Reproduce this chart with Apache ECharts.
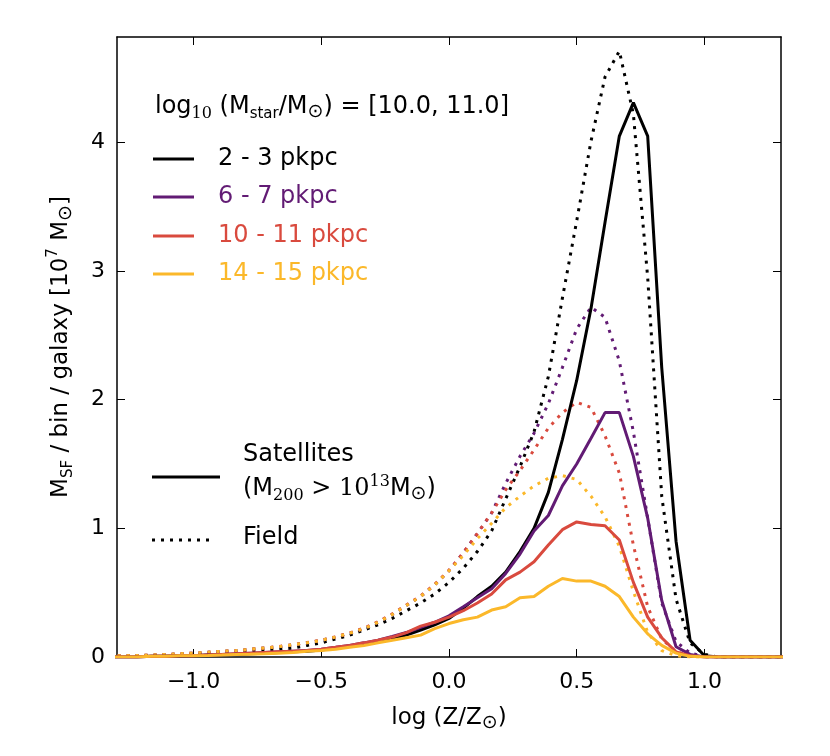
<!DOCTYPE html>
<html>
<head>
<meta charset="utf-8">
<script src="https://cdn.jsdelivr.net/npm/echarts@6.0.0/dist/echarts.min.js"></script>
<style>
html, body { margin: 0; padding: 0; background: #fff; }
#chart { width: 830px; height: 756px; }
</style>
</head>
<body>
<div id="chart"></div>
<script>
// bin centres, log (Z/Zsun)
var xs = [-1.333, -1.278, -1.222, -1.167, -1.111, -1.056, -1.0, -0.944, -0.889, -0.833, -0.778,
          -0.722, -0.667, -0.611, -0.556, -0.5, -0.444, -0.389, -0.333, -0.278, -0.222,
          -0.167, -0.111, -0.056, 0.0, 0.056, 0.111, 0.167, 0.222, 0.278, 0.333,
          0.389, 0.444, 0.5, 0.556, 0.611, 0.667, 0.722, 0.778, 0.833, 0.889,
          0.944, 1.0, 1.056, 1.111, 1.167, 1.222, 1.278, 1.333];

// satellites (solid)
var sat_2_3 = [0, 0, 0, 0.005, 0.005, 0.01, 0.01, 0.015, 0.02, 0.02, 0.025,
               0.03, 0.035, 0.04, 0.045, 0.055, 0.07, 0.085, 0.10, 0.12, 0.145,
               0.17, 0.21, 0.25, 0.30, 0.38, 0.47, 0.55, 0.66, 0.82, 1.00,
               1.28, 1.69, 2.15, 2.71, 3.38, 4.05, 4.31, 4.05, 2.25, 0.9,
               0.13, 0.01, 0, 0, 0, 0, 0, 0];
var sat_6_7 = [0, 0, 0, 0.005, 0.005, 0.01, 0.01, 0.015, 0.02, 0.025, 0.03,
               0.035, 0.04, 0.045, 0.05, 0.06, 0.075, 0.09, 0.11, 0.13, 0.16,
               0.19, 0.23, 0.27, 0.32, 0.39, 0.46, 0.53, 0.65, 0.80, 0.98,
               1.10, 1.33, 1.50, 1.70, 1.90, 1.90, 1.56, 1.08, 0.44, 0.08,
               0.02, 0, 0, 0, 0, 0, 0, 0];
var sat_10_11 = [0, 0, 0, 0.005, 0.005, 0.01, 0.01, 0.015, 0.02, 0.025, 0.03,
                 0.035, 0.04, 0.045, 0.05, 0.06, 0.075, 0.09, 0.11, 0.13, 0.155,
                 0.19, 0.24, 0.27, 0.31, 0.36, 0.42, 0.49, 0.60, 0.66, 0.74,
                 0.87, 0.99, 1.05, 1.03, 1.02, 0.91, 0.58, 0.31, 0.15, 0.04,
                 0.01, 0, 0, 0, 0, 0, 0, 0];
var sat_14_15 = [0, 0, 0, 0.005, 0.005, 0.01, 0.01, 0.012, 0.015, 0.02, 0.022,
                 0.025, 0.03, 0.035, 0.045, 0.05, 0.06, 0.075, 0.09, 0.11, 0.13,
                 0.15, 0.17, 0.22, 0.26, 0.29, 0.31, 0.365, 0.39, 0.46, 0.47,
                 0.55, 0.61, 0.59, 0.59, 0.55, 0.47, 0.31, 0.18, 0.09, 0.03,
                 0.005, 0, 0, 0, 0, 0, 0, 0];

// field (dotted)
var fld_2_3 = [0.005, 0.005, 0.005, 0.01, 0.01, 0.015, 0.02, 0.025, 0.03, 0.035, 0.04,
               0.05, 0.06, 0.07, 0.09, 0.11, 0.14, 0.17, 0.21, 0.25, 0.30,
               0.36, 0.42, 0.49, 0.58, 0.69, 0.82, 0.98, 1.23, 1.48, 1.75,
               2.18, 2.79, 3.39, 4.01, 4.51, 4.71, 4.22, 2.95, 1.25, 0.45,
               0.11, 0.02, 0, 0, 0, 0, 0, 0];
var fld_6_7 = [0.008, 0.01, 0.012, 0.015, 0.02, 0.025, 0.03, 0.037, 0.045, 0.05, 0.06,
               0.07, 0.08, 0.095, 0.11, 0.13, 0.155, 0.185, 0.22, 0.27, 0.33,
               0.40, 0.47, 0.56, 0.67, 0.81, 0.96, 1.12, 1.35, 1.56, 1.74,
               1.97, 2.25, 2.55, 2.72, 2.64, 2.30, 1.75, 1.08, 0.42, 0.12,
               0.03, 0.005, 0, 0, 0, 0, 0, 0];
var fld_10_11 = [0.008, 0.01, 0.012, 0.015, 0.02, 0.025, 0.03, 0.036, 0.044, 0.05, 0.06,
                 0.07, 0.082, 0.096, 0.112, 0.13, 0.157, 0.187, 0.225, 0.275, 0.335,
                 0.405, 0.475, 0.565, 0.675, 0.81, 0.96, 1.12, 1.30, 1.45, 1.61,
                 1.78, 1.90, 1.98, 1.94, 1.72, 1.43, 0.87, 0.39, 0.14, 0.04,
                 0.01, 0, 0, 0, 0, 0, 0, 0];
var fld_14_15 = [0.008, 0.01, 0.012, 0.015, 0.02, 0.025, 0.03, 0.037, 0.045, 0.05, 0.06,
                 0.07, 0.08, 0.095, 0.11, 0.13, 0.155, 0.185, 0.22, 0.27, 0.33,
                 0.40, 0.47, 0.56, 0.67, 0.79, 0.92, 1.04, 1.16, 1.25, 1.33,
                 1.39, 1.41, 1.38, 1.25, 1.09, 0.86, 0.51, 0.19, 0.05, 0.01,
                 0, 0, 0, 0, 0, 0, 0, 0];

var labels = ['2 - 3 pkpc', '6 - 7 pkpc', '10 - 11 pkpc', '14 - 15 pkpc'];
var colors = ['#000000', '#621b74', '#d94a3e', '#fbb82a'];
var satData = [sat_2_3, sat_6_7, sat_10_11, sat_14_15];
var fldData = [fld_2_3, fld_6_7, fld_10_11, fld_14_15];

var xTicks = [-1.0, -0.5, 0.0, 0.5, 1.0];
var yTicks = [0, 1, 2, 3, 4];

var FONT = 'DejaVu Sans';
var SERIF = 'DejaVu Serif';

function pairs(ys) {
    return xs.map(function (x, i) { return [x, ys[i]]; });
}

var series = [];
fldData.forEach(function (ys, i) {
    series.push({
        name: labels[i] + ' field', type: 'line', data: pairs(ys),
        showSymbol: false, silent: true, z: 2, clip: true,
        lineStyle: { color: colors[i], width: 3, type: [3, 6], cap: 'butt' }
    });
});
satData.forEach(function (ys, i) {
    series.push({
        name: labels[i], type: 'line', data: pairs(ys),
        showSymbol: false, silent: true, z: 3, clip: true,
        lineStyle: { color: colors[i], width: 3 }
    });
});

function xAx(pos, showLabel) {
    return {
        type: 'value', position: pos, min: -1.3, max: 1.3,
        axisLine: { show: true, onZero: false, lineStyle: { color: '#000', width: 1.5 } },
        axisTick: { show: true, inside: true, length: 8, customValues: xTicks, lineStyle: { color: '#000', width: 1 } },
        axisLabel: {
            show: showLabel, customValues: xTicks, margin: 14,
            fontFamily: FONT, fontSize: 22, color: '#000',
            formatter: function (v) { return (v < 0 ? '\u2212' : '') + Math.abs(v).toFixed(1); }
        },
        splitLine: { show: false }
    };
}
function yAx(pos, showLabel) {
    return {
        type: 'value', position: pos, min: 0, max: 4.82,
        axisLine: { show: true, onZero: false, lineStyle: { color: '#000', width: 1.5 } },
        axisTick: { show: true, inside: true, length: 8, customValues: yTicks, lineStyle: { color: '#000', width: 1 } },
        axisLabel: { show: showLabel, customValues: yTicks, margin: 12, fontFamily: FONT, fontSize: 22, color: '#000' },
        splitLine: { show: false }
    };
}

var xa = xAx('bottom', true);
xa.name = 'log (Z/Z{o|\u2299})';
xa.nameLocation = 'middle';
xa.nameGap = 46;
xa.nameTextStyle = {
    fontFamily: FONT, fontSize: 23, color: '#000', lineHeight: 30,
    rich: { o: { fontFamily: FONT, fontSize: 19, lineHeight: 18, verticalAlign: 'bottom', color: '#000' } }
};
var ya = yAx('left', true);
ya.name = 'M{s|SF} / bin / galaxy [10{p|7} M{o|\u2299}]';
ya.nameLocation = 'middle';
ya.nameGap = 41;
ya.nameTextStyle = {
    fontFamily: FONT, fontSize: 23, color: '#000', lineHeight: 30,
    rich: {
        s: { fontFamily: FONT, fontSize: 15, lineHeight: 14, verticalAlign: 'bottom', color: '#000' },
        o: { fontFamily: FONT, fontSize: 19, lineHeight: 18, verticalAlign: 'bottom', color: '#000' },
        p: { fontFamily: FONT, fontSize: 15, lineHeight: 14, verticalAlign: 'top', color: '#000' }
    }
};

var richBase = {
    s: { fontFamily: FONT, fontSize: 15, lineHeight: 14, verticalAlign: 'bottom' },
    o: { fontFamily: FONT, fontSize: 19, lineHeight: 18, verticalAlign: 'bottom' },
    ss: { fontFamily: SERIF, fontSize: 16, lineHeight: 14, verticalAlign: 'bottom' },
    m: { fontFamily: SERIF, fontSize: 24 },
    sp: { fontFamily: SERIF, fontSize: 16, lineHeight: 14, verticalAlign: 'top' }
};

function txt(x, y, text, color) {
    return {
        type: 'text', x: x, y: y, silent: true,
        style: {
            text: text, fill: color, fontFamily: FONT, fontSize: 24, lineHeight: 30,
            textAlign: 'left', textVerticalAlign: 'middle', align: 'left', verticalAlign: 'middle',
            rich: richBase
        }
    };
}
function seg(x1, x2, y, color, dash) {
    return {
        type: 'line', silent: true,
        shape: { x1: x1, y1: y, x2: x2, y2: y },
        style: { stroke: color, lineWidth: 3, lineDash: dash || null }
    };
}

var graphic = [
    txt(155, 107, 'log{ss|10} (M{s|star}/M{o|\u2299}) = [10.0, 11.0]', '#000')
];
var legendY = [159, 197, 236, 274];
labels.forEach(function (l, i) {
    graphic.push(seg(153, 194, legendY[i], colors[i]));
    graphic.push(txt(218, legendY[i], l, colors[i]));
});
graphic.push(seg(152, 220, 477, '#000'));
graphic.push(txt(243, 455, 'Satellites', '#000'));
graphic.push(txt(243, 489, '(M{ss|200} {m|>} {m|10}{sp|13}M{o|\u2299})', '#000'));
graphic.push(seg(152, 214, 540, '#000', [3, 6]));
graphic.push(txt(243, 538, 'Field', '#000'));

var myChart = echarts.init(document.getElementById('chart'));
var option = {
    backgroundColor: '#fff',
    animation: false,
    grid: { left: 117, right: 49, top: 37, bottom: 99, containLabel: false },
    xAxis: [xa, xAx('top', false)],
    yAxis: [ya, yAx('right', false)],
    series: series,
    graphic: graphic
};
myChart.setOption(option);
window.addEventListener('resize', function () { myChart.resize(); });
</script>
</body>
</html>
